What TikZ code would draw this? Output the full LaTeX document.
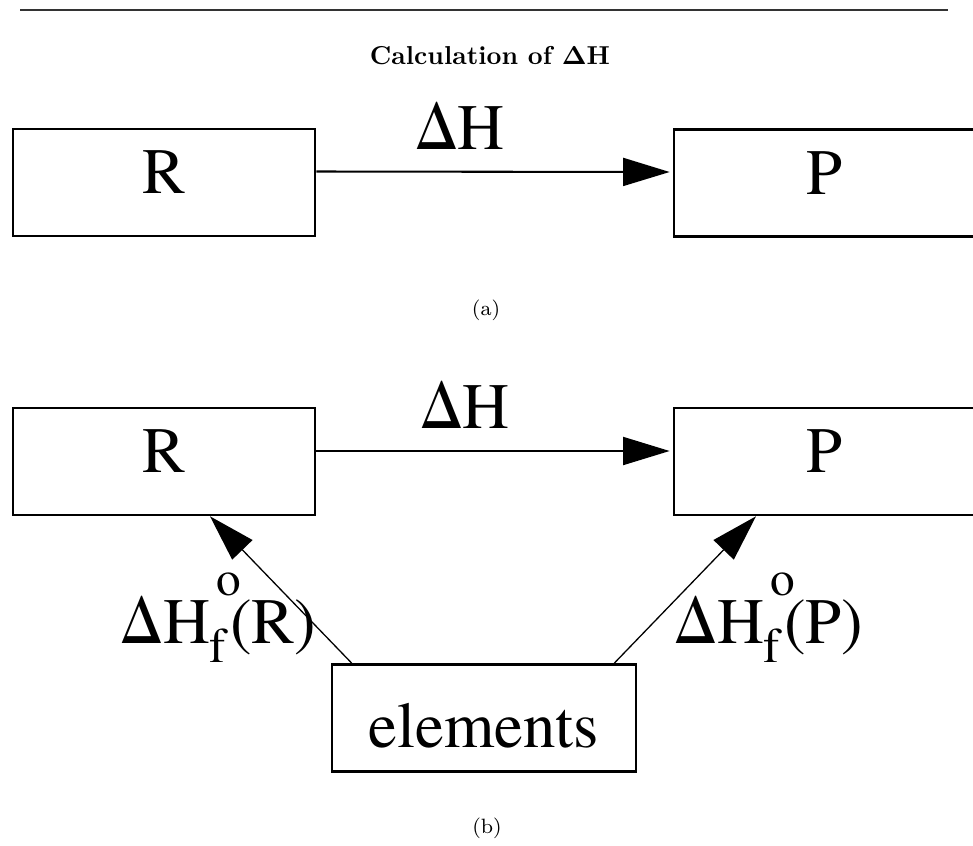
\documentclass[tikz,border=0pt]{standalone}
\usepackage{fontspec}
\newfontfamily\diafont{TeX Gyre Termes}
\usetikzlibrary{arrows.meta,calc}
% sub f and super o stacked after Delta H
\newcommand{\fo}{\rlap{\fontsize{19pt}{19pt}\selectfont\raisebox{-7.7pt}{f}}\rlap{\hspace{2.7pt}\fontsize{19pt}{19pt}\selectfont\raisebox{18.5pt}{o}}\hspace{7.8pt}}
\begin{document}
\begin{tikzpicture}[x=0.386pt,y=-0.386pt,
  box/.style={draw,line width=1pt,minimum width=116.6pt,minimum height=41.3pt,
    inner sep=0pt,font=\diafont\fontsize{25pt}{25pt}\selectfont,
    text height=17.5pt,text depth=9pt},
  lbl/.style={font=\diafont\fontsize{25pt}{25pt}\selectfont,inner sep=0pt,anchor=base},
  >={Triangle[length=18pt,width=10.8pt]}]
  \useasboundingbox (0,0) rectangle (973,846);
  \draw [line width=0.5pt,black!80] (20,10) -- (948,10);
  \node (title) at (490,56) {\textbf{Calculation of \boldmath$\Delta$H}};
  % (a)
  \node[box] (r1) at (164,182.5) {R};
  \node[box] (p1) at (825,183) {P};
  \node[lbl] (dh1) at (460,149) {ΔH};
  \draw [->,line width=0.8pt] ($(r1.east)+(0,-11)$) -- ($(p1.west)+(-3,-11)$);
  \node[font=\footnotesize] (capa) at (486,310) {(a)};
  % (b)
  \node[box] (r2) at (164,461.5) {R};
  \node[box] (p2) at (825,461.5) {P};
  \node[box,minimum width=117.3pt,text height=22.4pt,text depth=0pt] (el) at (484,718) {elements};
  \node[lbl] (dh2) at (465,428) {ΔH};
  \node[lbl,anchor=base west] (dhr) at (120,643) {ΔH\fo(R)};
  \node[lbl,anchor=base west] (dhp) at (674,643) {ΔH\fo(P)};
  \draw [->,line width=0.8pt] ($(r2.east)+(0,-10.5)$) -- ($(p2.west)+(-3,-10.5)$);
  \draw [->,line width=0.5pt] ($(el.north west)+(21,0)$) -- ($(r2.south)+(46,0)$);
  \draw [->,line width=0.5pt] ($(el.north east)+(-23,0)$) -- ($(p2.south)+(-69,0)$);
  \node[font=\footnotesize] (capb) at (487,828) {(b)};
\end{tikzpicture}
\end{document}
